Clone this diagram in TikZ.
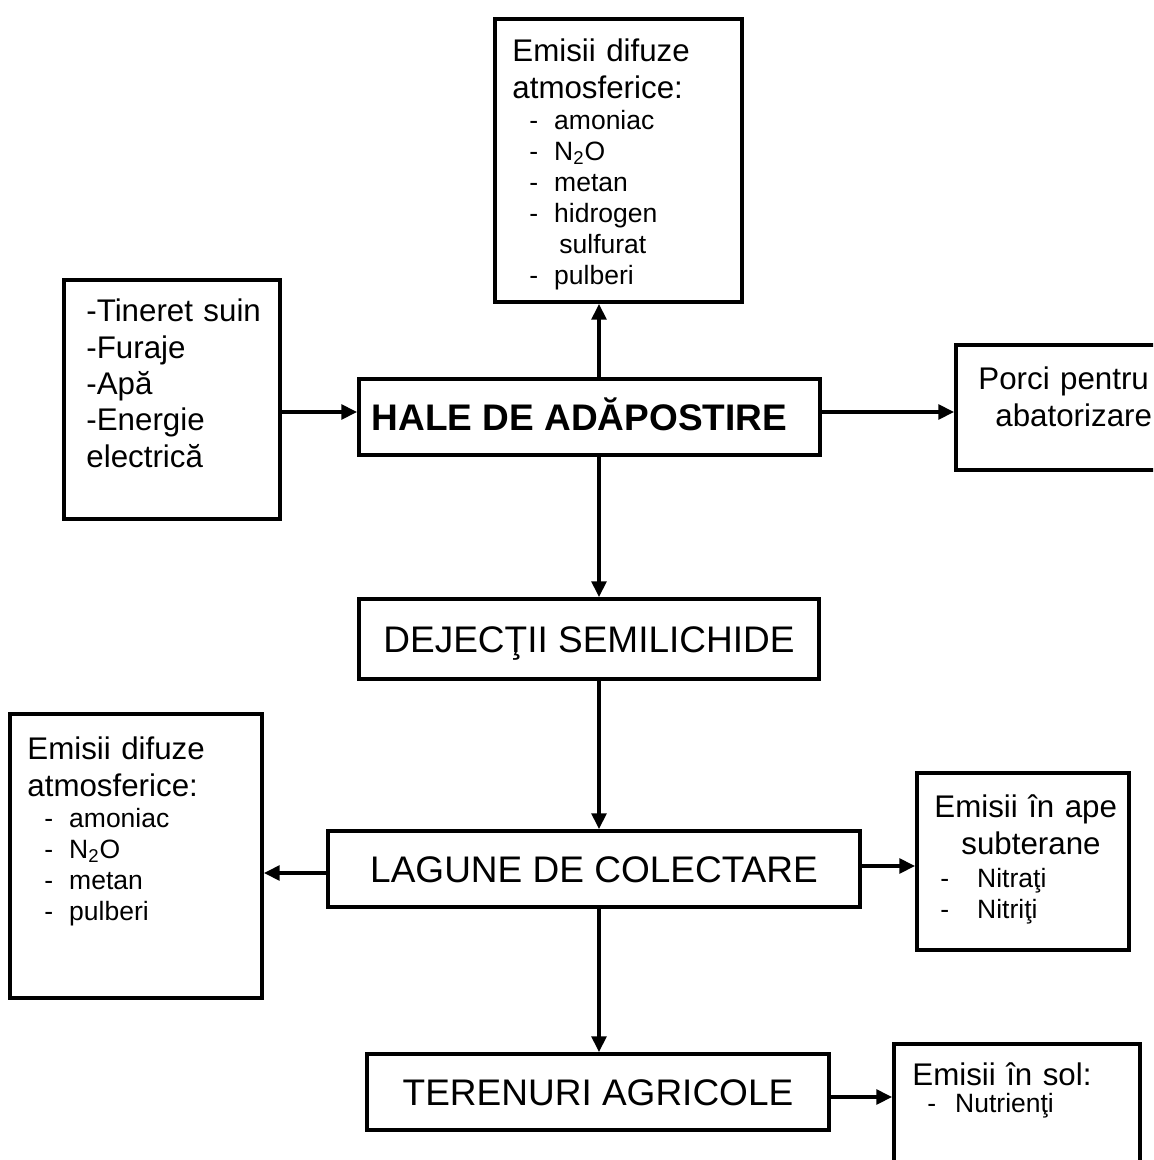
\documentclass[tikz,border=0pt]{standalone}
\usepackage{fontspec}
\setmainfont{Liberation Sans}
\usetikzlibrary{shapes.geometric, arrows.meta, positioning}

\newcommand{\fbig}{\fontsize{18.5pt}{21pt}\selectfont}
\newcommand{\fmid}{\fontsize{15.65pt}{18.2pt}\selectfont}
\newcommand{\fsmall}{\fontsize{13.25pt}{15.5pt}\selectfont}
\newcommand{\emitem}[1]{\hspace*{8.5pt}-\hspace*{8pt}#1}

\begin{document}
\begin{tikzpicture}[x=0.5pt, y=-0.5pt]
        \tikzstyle{box} = [rectangle, draw, line width=2pt, inner sep=0pt, text height=13.25pt, text depth=0pt, font=\fbig]
        \tikzstyle{boxtext} = [anchor=north west, inner sep=0pt, text width=115pt, align=left, font=\fmid]
        \tikzstyle{line} = [draw, line width=1.6pt, -{Triangle[length=7.8pt, width=7.4pt]}]

        \clip (0,0) rectangle (1153,1160);

        % Main column
        \node [box, minimum width=230.5pt, minimum height=38pt] (hale) at (589.5,417) {\textbf{HALE DE ADĂPOSTIRE}\hspace*{10pt}};
        \node [box, minimum width=230pt, minimum height=40pt] (dej) at (589,639) {DEJECŢII SEMILICHIDE};
        \node [box, minimum width=266pt, minimum height=38pt] (lagune) at (594,869) {LAGUNE DE COLECTARE};
        \node [box, minimum width=231pt, minimum height=38pt] (teren) at (598,1092) {TERENURI AGRICOLE};

        % Side boxes
        \node [box, minimum width=123.5pt, minimum height=141.5pt] (emtop) at (618.5,160.5) {};
        \node [box, minimum width=108pt, minimum height=119.5pt] (intrari) at (172,399.5) {};
        \node [box, minimum width=109.5pt, minimum height=62.5pt] (porci) at (1065.5,407.5) {};
        \node [box, minimum width=126pt, minimum height=142pt] (emleft) at (136,856) {};
        \node [box, minimum width=106pt, minimum height=88.5pt] (ape) at (1023,861.5) {};
        \node [box, minimum width=123pt, minimum height=73pt] (sol) at (1017,1117) {};

        % Texts of the side boxes
        \node [boxtext] (emtoptxt) at (512,38.6) {Emisii difuze\\
            atmosferice:\\
            \fsmall\emitem{amoniac}\\
            \emitem{N\textsubscript{2}O}\\
            \emitem{metan}\\
            \emitem{hidrogen}\\
            \hspace*{23.5pt}sulfurat\\
            \emitem{pulberi}\par};
        \node [boxtext] (intraritxt) at (86,298.6) {-Tineret suin\\ -Furaje\\ -Apă\\ -Energie\\ electrică};
        \node [boxtext] (porcitxt) at (978,366.6) {Porci pentru\\ \hspace*{8.5pt}abatorizare};
        \node [boxtext] (emlefttxt) at (27,736.6) {Emisii difuze\\
            atmosferice:\\
            \fsmall\emitem{amoniac}\\
            \emitem{N\textsubscript{2}O}\\
            \emitem{metan}\\
            \emitem{pulberi}\par};
        \node [boxtext] (apetxt) at (934,794.6) {Emisii în ape\\
            \hspace*{13.5pt}subterane\\[1pt]
            \fsmall\hspace*{3pt}-\hspace*{14pt}Nitraţi\\
            \hspace*{3pt}-\hspace*{14pt}Nitriţi\par};
        \node [boxtext] (soltxt) at (912,1062) {Emisii în sol:\\[-2pt]
            \fsmall\hspace*{7.5pt}-\hspace*{9.5pt}Nutrienţi\par};

        % Paths
        \coordinate (axis) at (599,0);
        \path [line] (hale.north -| axis) -- (emtop.south -| axis);
        \path [line] (hale.south -| axis) -- (dej.north -| axis);
        \path [line] (dej.south -| axis) -- (lagune.north -| axis);
        \path [line] (lagune.south -| axis) -- (teren.north -| axis);
        \path [line] (intrari.east |- 0,412) -- (hale.west |- 0,412);
        \path [line] (hale.east |- 0,412) -- (porci.west |- 0,412);
        \path [line] (lagune.west |- 0,873) -- (emleft.east |- 0,873);
        \path [line] (lagune.east |- 0,866) -- (ape.west |- 0,866);
        \path [line] (teren.east |- 0,1097) -- (sol.west |- 0,1097);
\end{tikzpicture}
\end{document}
